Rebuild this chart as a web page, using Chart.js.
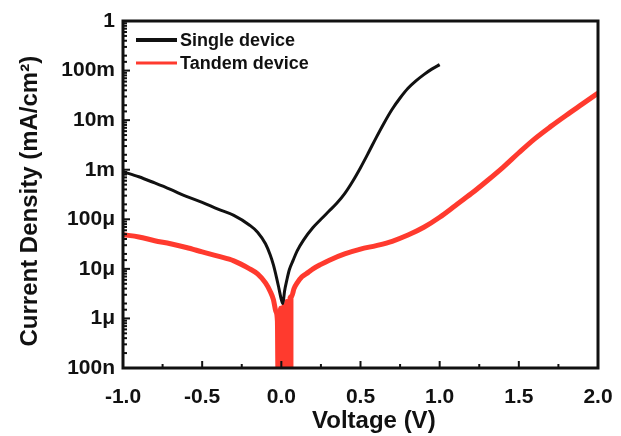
<!DOCTYPE html>
<html>
<head>
<meta charset="utf-8">
<script src="https://cdn.jsdelivr.net/npm/chart.js@4.4.1/dist/chart.umd.min.js"></script>
<style>
  html, body { margin: 0; padding: 0; background: #fff; }
  #wrap { width: 621px; height: 436px; }
</style>
</head>
<body>
<div id="wrap"><canvas id="myChart" width="621" height="436"></canvas></div>
<script>
// Single device J-V (mA/cm2)
var singleV = [-1.0, -0.9, -0.8, -0.7, -0.6, -0.5, -0.4, -0.3, -0.2, -0.15, -0.1, -0.07, -0.05, -0.03, -0.015, 0.0, 0.01, 0.02, 0.035, 0.05, 0.075, 0.1, 0.14, 0.2, 0.25, 0.3, 0.35, 0.4, 0.45, 0.5, 0.55, 0.6, 0.65, 0.7, 0.75, 0.8, 0.85, 0.9, 0.95, 1.0];
var singleJ = [9.1e-4, 7.2e-4, 5.4e-4, 4.0e-4, 2.9e-4, 2.2e-4, 1.6e-4, 1.2e-4, 7.6e-5, 5.5e-5, 3.2e-5, 1.9e-5, 1.2e-5, 6.6e-6, 4.0e-6, 2.4e-6, 2.0e-6, 3.5e-6, 6.0e-6, 9.5e-6, 1.5e-5, 2.3e-5, 3.8e-5, 6.8e-5, 1.0e-4, 1.45e-4, 2.1e-4, 3.3e-4, 5.8e-4, 1.1e-3, 2.2e-3, 4.5e-3, 8.9e-3, 1.66e-2, 2.8e-2, 4.4e-2, 6.2e-2, 8.3e-2, 0.107, 0.132];

// Tandem device J-V (mA/cm2), noisy dip around 0 V
var tandemV = [-1.0, -0.9, -0.8, -0.7, -0.6, -0.5, -0.4, -0.3, -0.2, -0.15, -0.1, -0.07, -0.05, -0.035, -0.025,
  -0.02, -0.015, -0.01, -0.005, 0.0, 0.005, 0.01, 0.015, 0.02, 0.025, 0.03, 0.035, 0.04, 0.045, 0.05, 0.055,
  0.065, 0.08, 0.1, 0.13, 0.17, 0.2, 0.25, 0.3, 0.4, 0.5, 0.6, 0.7, 0.8, 0.9, 1.0, 1.1, 1.2, 1.3, 1.4, 1.5, 1.6, 1.7, 1.8, 1.9, 2.0];
var tandemJ = [4.9e-5, 4.4e-5, 3.7e-5, 3.2e-5, 2.7e-5, 2.2e-5, 1.8e-5, 1.45e-5, 1.0e-5, 7.9e-6, 5.2e-6, 3.5e-6, 2.4e-6, 1.4e-6, 9e-7,
  1e-7, 1.2e-6, 1e-7, 1.6e-6, 1e-7, 1.0e-6, 1e-7, 1.8e-6, 1e-7, 1.3e-6, 1e-7, 2.2e-6, 1e-7, 1.5e-6, 1e-7, 2.6e-6,
  2.8e-6, 4.0e-6, 5.2e-6, 6.9e-6, 8.5e-6, 1.0e-5, 1.23e-5, 1.48e-5, 2.0e-5, 2.5e-5, 2.95e-5, 3.6e-5, 4.8e-5, 6.9e-5, 1.1e-4, 1.9e-4, 3.3e-4, 6.0e-4, 1.12e-3, 2.2e-3, 4.2e-3, 7.4e-3, 1.26e-2, 2.1e-2, 3.5e-2];

var seriesNames = ['Single device', 'Tandem device'];
var decadeValues = [1e-7, 1e-6, 1e-5, 1e-4, 1e-3, 1e-2, 1e-1, 1];
var decadeLabels = ['100n', '1\u03bc', '10\u03bc', '100\u03bc', '1m', '10m', '100m', '1'];

function toPoints(xs, ys) {
    var pts = [];
    for (var i in xs) {
        pts.push({x: xs[i], y: ys[i]});
    }
    return pts;
}

// the noisy part of the tandem curve near 0 V, drawn as thin bars so it comes out solid
function dipPoints(xs, ys) {
    var pts = [];
    for (var i in xs) {
        if (xs[i] >= -0.025 && xs[i] <= 0.065) pts.push({x: xs[i], y: ys[i]});
    }
    return pts;
}

function decadeLabel(v) {
    for (var i = 0; i < decadeValues.length; i++) {
        if (Math.abs(Math.log10(v) - Math.log10(decadeValues[i])) < 1e-6) return decadeLabels[i];
    }
    return '';
}

// frame, inward ticks and legend drawn on top
var framePlugin = {
    id: 'frame',
    afterDraw: function (chart) {
        var ctx = chart.ctx;
        var a = chart.chartArea;
        var xs = chart.scales.x;
        var ys = chart.scales.y;
        ctx.save();
        ctx.strokeStyle = '#111';
        ctx.lineWidth = 2;
        // x ticks every 0.25
        for (var v = -1.0; v <= 2.0001; v += 0.25) {
            var px = xs.getPixelForValue(v);
            var major = Math.abs(v * 2 - Math.round(v * 2)) < 1e-6;
            ctx.beginPath();
            ctx.moveTo(px, a.bottom);
            ctx.lineTo(px, a.bottom - (major ? 7 : 4));
            ctx.stroke();
        }
        // y log ticks
        for (var i = 0; i < ys.ticks.length; i++) {
            var tv = ys.ticks[i].value;
            var py = ys.getPixelForValue(tv);
            var isMajor = decadeLabel(tv) !== '';
            ctx.beginPath();
            ctx.moveTo(a.left, py);
            ctx.lineTo(a.left + (isMajor ? 7 : 4), py);
            ctx.stroke();
        }
        ctx.lineWidth = 3;
        ctx.strokeRect(a.left, a.top, a.right - a.left, a.bottom - a.top);

        // legend
        var ds = chart.data.datasets;
        ctx.font = 'bold 18px "Liberation Sans", Arial, sans-serif';
        ctx.textBaseline = 'middle';
        ctx.fillStyle = '#111';
        for (var k = 0; k < 2; k++) {
            var ly = a.top + 19 + k * 23;
            ctx.strokeStyle = ds[k].borderColor;
            ctx.lineWidth = k == 0 ? 4 : 3;
            ctx.beginPath();
            ctx.moveTo(a.left + 13, ly);
            ctx.lineTo(a.left + 54, ly);
            ctx.stroke();
            ctx.fillText(ds[k].label, a.left + 57, ly + 1);
        }
        ctx.restore();
    }
};

var tickFont = {family: '"Liberation Sans", Arial, sans-serif', size: 21, weight: 'bold'};
var titleFont = {family: '"Liberation Sans", Arial, sans-serif', size: 24, weight: 'bold'};
var red = '#ff3a2e';

var chartdata = {
    datasets: [
        {
            label: seriesNames[0],
            data: toPoints(singleV, singleJ),
            borderColor: '#111111',
            borderWidth: 3,
            pointRadius: 0,
            cubicInterpolationMode: 'monotone',
            order: 0
        },
        {
            label: seriesNames[1],
            data: toPoints(tandemV, tandemJ),
            borderColor: red,
            borderWidth: 5,
            pointRadius: 0,
            cubicInterpolationMode: 'monotone',
            order: 1
        },
        {
            type: 'bar',
            label: seriesNames[1],
            data: dipPoints(tandemV, tandemJ),
            backgroundColor: red,
            borderWidth: 0,
            barThickness: 3,
            grouped: false,
            order: 2
        }
    ]
};

var graphTarget = document.getElementById('myChart');
var lineGraph = new Chart(graphTarget, {
    type: 'line',
    data: chartdata,
    plugins: [framePlugin],
    options: {
        responsive: false,
        animation: false,
        layout: {padding: {top: 21, right: 23, left: 16, bottom: 0}},
        plugins: {
            legend: {display: false},
            tooltip: {enabled: false}
        },
        scales: {
            x: {
                type: 'linear',
                min: -1.0,
                max: 2.0,
                offset: false,
                grid: {display: false, drawTicks: false, offset: false},
                border: {display: false},
                ticks: {
                    stepSize: 0.5,
                    color: '#111',
                    font: tickFont,
                    padding: 17,
                    maxRotation: 0,
                    callback: function (v) { return v.toFixed(1); }
                },
                title: {display: true, text: '    Voltage (V)', color: '#111', font: titleFont, padding: {top: 3, bottom: 0}},
                afterFit: function (s) { s.height = 68; s.paddingRight = 0; s.paddingLeft = 0; }
            },
            y: {
                type: 'logarithmic',
                min: 1e-7,
                max: 1,
                grid: {display: false, drawTicks: false},
                border: {display: false},
                ticks: {
                    color: '#111',
                    font: tickFont,
                    padding: 8,
                    autoSkip: false,
                    callback: function (v) { return decadeLabel(v); }
                },
                title: {display: true, text: 'Current Density (mA/cm\u00b2)  ', color: '#111', font: titleFont, padding: {top: 0, bottom: 4}},
                afterFit: function (s) { s.width = 107; }
            }
        }
    }
});
</script>
</body>
</html>
